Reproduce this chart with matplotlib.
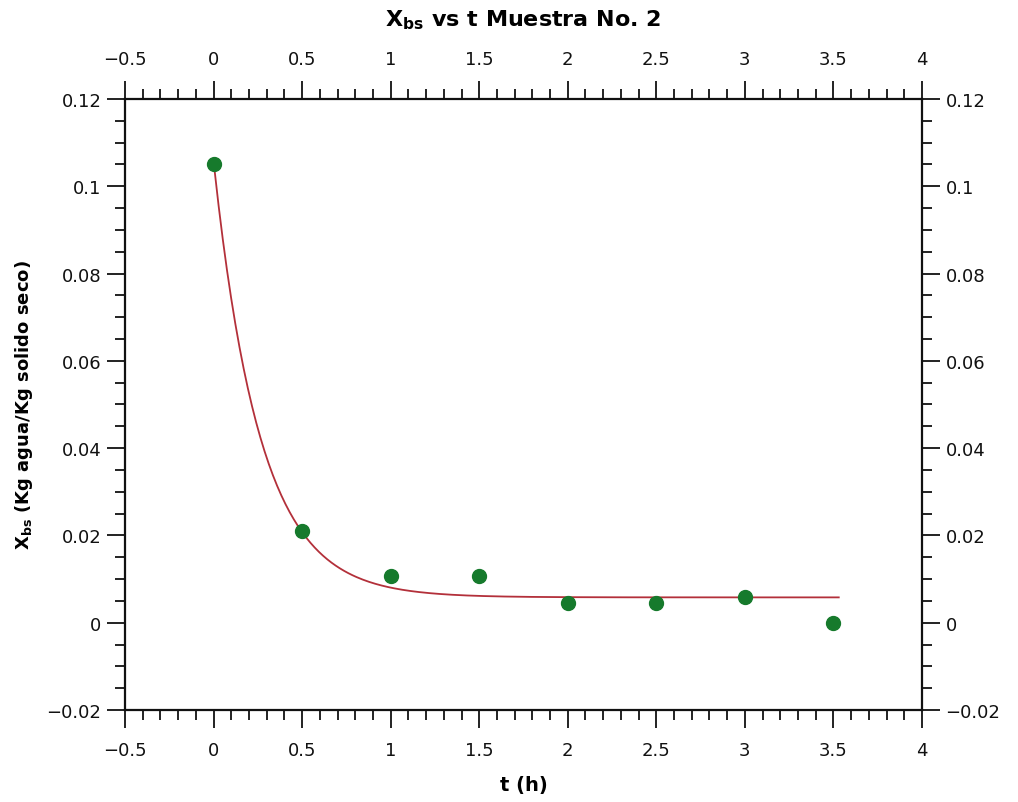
import numpy as np
import matplotlib
matplotlib.use('Agg')
import matplotlib.pyplot as plt
from matplotlib.ticker import MultipleLocator, FuncFormatter

# Measured points
t_h = [0, 0.5, 1, 1.5, 2, 2.5, 3, 3.5]
x_bs = [0.105, 0.021, 0.0107, 0.0107, 0.0045, 0.0045, 0.0059, 0.0]

# Fit curve parameters (X = a + b*exp(-k*t))
fit_a = 0.0058
fit_b = 0.1
fit_k = 3.8
fit_t_start = 0.005
fit_t_end = 3.53

plt.rcParams['font.family'] = ['DejaVu Sans']

fig = plt.figure(figsize=(10.18, 8.03), dpi=100)
ax = fig.add_axes([0.1228, 0.1146, 0.7829, 0.7609])

# Fit line
t_fit = np.linspace(fit_t_start, fit_t_end, 300)
ax.plot(t_fit, fit_a + fit_b * np.exp(-fit_k * t_fit), color='#b3303a', lw=1.3, zorder=2)

# Data points
ax.plot(t_h, x_bs, 'o', color='#167a2c', markersize=10, zorder=3)

ax.set_xlim(-0.5, 4)
ax.set_ylim(-0.02, 0.12)

ax.xaxis.set_major_locator(MultipleLocator(0.5))
ax.xaxis.set_minor_locator(MultipleLocator(0.1))
ax.yaxis.set_major_locator(MultipleLocator(0.02))
ax.yaxis.set_minor_locator(MultipleLocator(0.005))

fmt = FuncFormatter(lambda v, p: ('%g' % round(v, 6)).replace('-', '\u2212'))
ax.xaxis.set_major_formatter(fmt)
ax.yaxis.set_major_formatter(fmt)

ax.tick_params(which='both', direction='out', top=True, right=True,
               labeltop=True, labelright=True, width=1.3, colors='#111111')
ax.tick_params(which='major', length=13, labelsize=13)
ax.tick_params(which='minor', length=7.5)
ax.tick_params(axis='x', which='major', pad=9)
ax.tick_params(axis='y', which='major', pad=4)

for s in ax.spines.values():
    s.set_linewidth(1.6)
    s.set_color('#111111')

ax.set_xlabel('t (h)', fontsize=14, fontweight='bold', labelpad=12)
ax.set_ylabel(r'$\mathbf{X_{bs}}$ (Kg agua/Kg solido seco)', fontsize=13, fontweight='bold', labelpad=8)
ax.set_title(r'$\mathbf{X_{bs}}$ vs t Muestra No. 2', fontsize=16, fontweight='bold', pad=18)

fig.savefig('out.png', dpi=100)
